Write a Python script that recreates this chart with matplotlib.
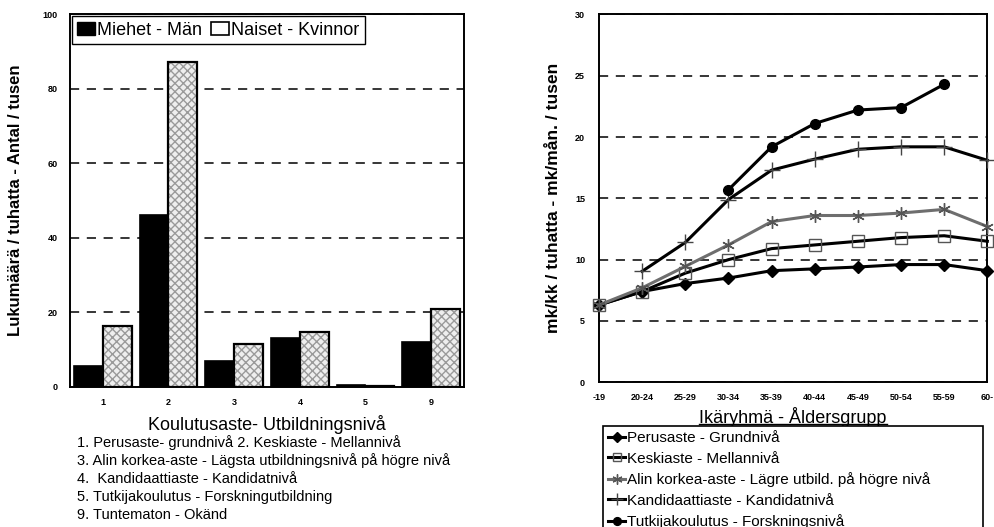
import numpy as np
import matplotlib
matplotlib.use("Agg")
import matplotlib.pyplot as plt
from matplotlib.patches import Patch
from matplotlib.lines import Line2D

plt.rcParams['font.family'] = ['Liberation Sans', 'DejaVu Sans']

# vasen kuva: koulutusaste
edu_levels = ["1", "2", "3", "4", "5", "9"]
men = [5.6, 46.1, 7.0, 13.2, 0.5, 12.1]
women = [16.3, 87.1, 11.5, 14.6, 0.3, 20.9]

edu_notes = [
    "1. Perusaste- grundnivå 2. Keskiaste - Mellannivå",
    "3. Alin korkea-aste - Lägsta utbildningsnivå på högre nivå",
    "4.  Kandidaattiaste - Kandidatnivå",
    "5. Tutkijakoulutus - Forskningutbildning",
    "9. Tuntematon - Okänd",
]

# oikea kuva: ikäryhmät
age_groups = ["-19", "20-24", "25-29", "30-34", "35-39",
              "40-44", "45-49", "50-54", "55-59", "60-"]
perusaste = [6.3, 7.4, 8.05, 8.5, 9.1, 9.25, 9.4, 9.6, 9.6, 9.1]
keskiaste = [6.3, 7.4, 8.9, 10.0, 10.9, 11.2, 11.5, 11.8, 11.95, 11.5]
alin = [6.3, 7.7, 9.45, 11.2, 13.1, 13.6, 13.6, 13.8, 14.1, 12.7]
kandidaatti = [np.nan, 9.05, 11.4, 14.9, 17.3, 18.2, 19.0, 19.2, 19.2, 18.1]
tutkija = [np.nan, np.nan, np.nan, 15.7, 19.2, 21.1, 22.2, 22.4, 24.3, np.nan]

fig = plt.figure(figsize=(9.94, 5.27), dpi=100)

# ---- vasen ----
ax1 = fig.add_axes([0.0704, 0.2662, 0.3964, 0.7067])
x = np.arange(len(edu_levels))
w = 0.44

ax1.bar(x - w / 2, men, w, color="black", edgecolor="black", linewidth=1.2, zorder=3)
ax1.bar(x + w / 2, women, w, color="#eeeeee", edgecolor="#9a9a9a", hatch="xxxx",
        linewidth=0, zorder=3)
ax1.bar(x + w / 2, women, w, fill=False, edgecolor="black", linewidth=1.6, zorder=4)

ax1.set_xlim(-0.5, len(edu_levels) - 0.5)
ax1.set_ylim(0, 100)
ax1.set_yticks([0, 20, 40, 60, 80, 100])
ax1.set_xticks(x)
ax1.set_xticklabels(edu_levels)
ax1.set_axisbelow(True)
ax1.yaxis.grid(True, linestyle=(0, (6, 5)), color="black", linewidth=1.1)
ax1.tick_params(axis="both", length=0, labelsize=6.5)
ax1.tick_params(axis="y", pad=9)
ax1.tick_params(axis="x", pad=8)
for lab in ax1.get_xticklabels() + ax1.get_yticklabels():
    lab.set_fontweight("bold")
for sp in ax1.spines.values():
    sp.set_linewidth(1.4)

ax1.set_ylabel("Lukumäärä / tuhatta - Antal / tusen", fontsize=12,
               fontweight="bold", labelpad=14)
ax1.set_xlabel("Koulutusaste- Utbildningsnivå", fontsize=13, labelpad=6)

leg1 = ax1.legend(
    handles=[Patch(facecolor="black", edgecolor="black"),
             Patch(facecolor="white", edgecolor="black", linewidth=1.2)],
    labels=["Miehet - Män", "Naiset - Kvinnor"],
    loc="upper left", bbox_to_anchor=(0.0, 1.0), ncol=2,
    fontsize=13, handlelength=1.0, handleheight=0.7, handletextpad=0.1,
    columnspacing=0.5, borderaxespad=0.1, borderpad=0.3,
    fancybox=False, framealpha=1, edgecolor="black")
leg1.get_frame().set_linewidth(1.0)

for i, line in enumerate(edu_notes):
    fig.text(77 / 994, 1 - (443 + i * 17.9) / 527, line, fontsize=10.5,
             va="center", ha="left")

# ---- oikea ----
ax2 = fig.add_axes([0.6026, 0.2746, 0.3907, 0.6981])
xa = np.arange(len(age_groups))

series = [
    ("Perusaste - Grundnivå", perusaste,
     dict(color="black", marker="D", ms=6, mfc="black", mec="black")),
    ("Keskiaste - Mellannivå", keskiaste,
     dict(color="black", marker="s", ms=8, mfc="none", mec="#555555", mew=1.0)),
    ("Alin korkea-aste - Lägre utbild. på högre nivå", alin,
     dict(color="#6e6e6e", marker=(6, 2, 0), ms=9, mec="#555555", mew=1.0)),
    ("Kandidaattiaste - Kandidatnivå", kandidaatti,
     dict(color="black", marker="+", ms=11, mec="#444444", mew=1.0)),
    ("Tutkijakoulutus - Forskningsnivå", tutkija,
     dict(color="black", marker="o", ms=7, mfc="black", mec="black")),
]
for label, vals, style in series:
    ax2.plot(xa, vals, linewidth=2.2, label=label, clip_on=False, zorder=3, **style)

ax2.set_xlim(0, len(age_groups) - 1)
ax2.set_ylim(0, 30)
ax2.set_yticks([0, 5, 10, 15, 20, 25, 30])
ax2.set_xticks(xa)
ax2.set_xticklabels(age_groups)
ax2.yaxis.grid(True, linestyle=(0, (6, 5)), color="black", linewidth=1.1)
ax2.tick_params(axis="both", length=0, labelsize=6.5)
ax2.tick_params(axis="y", pad=10)
ax2.tick_params(axis="x", pad=8)
for lab in ax2.get_xticklabels() + ax2.get_yticklabels():
    lab.set_fontweight("bold")
for sp in ax2.spines.values():
    sp.set_linewidth(1.4)

ax2.set_ylabel("mk/kk / tuhatta - mk/mån. / tusen", fontsize=12.5,
               fontweight="bold", labelpad=10)
xl = ax2.set_xlabel("Ikäryhmä - Åldersgrupp", fontsize=13, labelpad=3)

leg2 = fig.legend(
    loc="upper left",
    bbox_to_anchor=(603 / 994, 1 - 426 / 527, (983 - 603) / 994, 0.0),
    bbox_transform=fig.transFigure, mode="expand",
    handles=ax2.get_lines(), fontsize=11, handlelength=1.1, handletextpad=0.1,
    labelspacing=0.42, borderaxespad=0, borderpad=0.35,
    fancybox=False, framealpha=1, edgecolor="black", markerscale=0.8)
leg2.get_frame().set_linewidth(1.2)

# alleviivaus x-akselin otsikolle
fig.canvas.draw()
bb = xl.get_window_extent().transformed(fig.transFigure.inverted())
fig.add_artist(Line2D([bb.x0, bb.x1], [bb.y0 + 0.005, bb.y0 + 0.005],
                      color="black", linewidth=1.0, transform=fig.transFigure,
                      zorder=10))

fig.savefig("out.png", dpi=100)
